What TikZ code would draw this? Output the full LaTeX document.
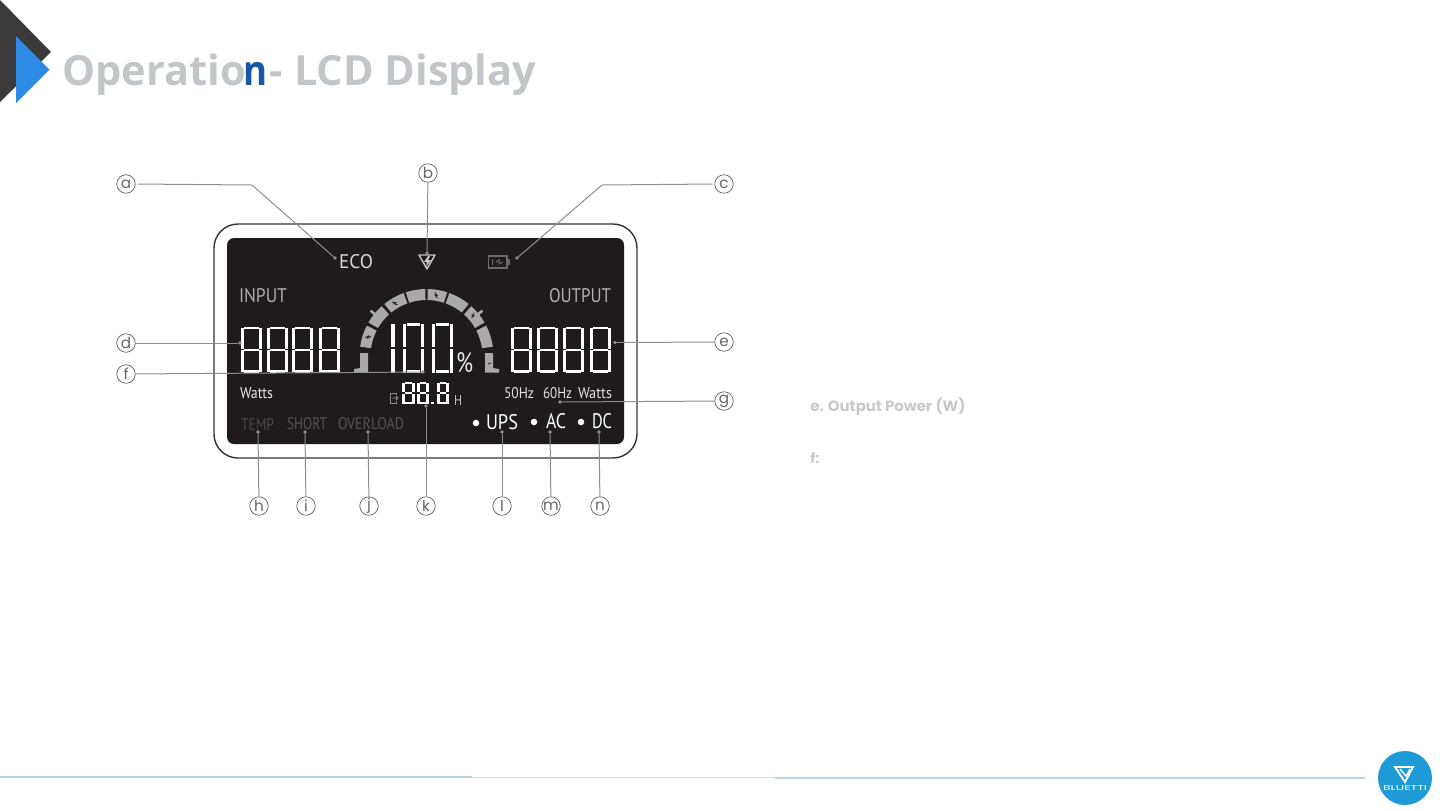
\documentclass[tikz,border=0pt]{standalone}
\usepackage{graphicx}
\usepackage{fontspec}
\setmainfont{PT Sans}
\newfontfamily\titlefont{Open Sans}
\newfontfamily\popfont{Poppins}
\newlength{\pxu}\setlength{\pxu}{0.5pt}
\definecolor{panelc}{HTML}{1F1B1D}
\definecolor{gaugec}{HTML}{A9A9A9}
\definecolor{leadc}{HTML}{8F8F8F}
\definecolor{titlec}{HTML}{C3C6C9}
\definecolor{titleblue}{HTML}{1757A5}
\definecolor{textgrey}{HTML}{C9C9C9}
\definecolor{darkarrow}{HTML}{3A3A3A}
\definecolor{bluearrow}{HTML}{2D8AE5}
\definecolor{logoblue}{HTML}{1E9AD6}
\tikzset{
  callout/.style={draw=black!62,line width=0.35pt,circle,minimum size=18.5\pxu,inner sep=0pt,text=black!60,font=\popfont\fontsize{7.6}{8}\selectfont},
  lcd/.style={anchor=south west,inner sep=0pt,outer sep=0pt},
  leader/.style={draw=leadc,line width=0.5pt},
  tip/.style={circle,fill=leadc,minimum size=3.6\pxu,inner sep=0pt,outer sep=0pt},
  seg/.style={draw=white,line width=#1\pxu,line cap=butt},
  gseg/.style={fill=gaugec},
  gmark/.style={draw=panelc,line width=0.4pt},
  ldot/.style={circle,fill=white,minimum size=6.5\pxu,inner sep=0pt}
}
% exact-size LCD label: x, bottom y, width, height, colour, text, name
\newcommand{\lcdtext}[7]{\node[lcd,text=#5] (#7) at (#1,#2) {\resizebox{#3\pxu}{#4\pxu}{#6}};}
% seven segment zero: x,y,w,h,thickness
\newcommand{\zeroseg}[5]{%
  \pgfmathsetmacro{\hth}{#5*0.8}%
  \pgfmathsetmacro{\hx}{#5/2+0.7}\pgfmathsetmacro{\xa}{#1+#5/2}\pgfmathsetmacro{\xb}{#1+#3-#5/2}%
  \pgfmathsetmacro{\ymid}{#2+#4/2}\pgfmathsetmacro{\ya}{#2+\hth/2}\pgfmathsetmacro{\yb}{#2+#4-\hth/2}%
  \pgfmathsetmacro{\yc}{#2}\pgfmathsetmacro{\yd}{#2+#4}%
  \draw[seg=\hth] ({\xa+\hx},\ya) -- ({\xb-\hx},\ya);
  \draw[seg=\hth] ({\xa+\hx},\yb) -- ({\xb-\hx},\yb);
  \draw[seg=#5] (\xa,{\yc+0.5}) -- (\xa,{\ymid-0.6});
  \draw[seg=#5] (\xb,{\yc+0.5}) -- (\xb,{\ymid-0.6});
  \draw[seg=#5] (\xa,{\ymid+0.6}) -- (\xa,{\yd-0.5});
  \draw[seg=#5] (\xb,{\ymid+0.6}) -- (\xb,{\yd-0.5});
}
% seven segment eight: zero plus the middle bar
\newcommand{\sevenseg}[5]{%
  \zeroseg{#1}{#2}{#3}{#4}{#5}%
  \draw[seg=\hth] ({\xa+\hx},\ymid) -- ({\xb-\hx},\ymid);
}
\newcommand{\gaugeseg}[2]{\fill[gseg] (#1:67) arc[start angle=#1,end angle=#2,radius=67] -- (#2:56) arc[start angle=#2,end angle=#1,radius=56] -- cycle;}
\newcommand{\gaugemark}[1]{\draw[gmark] ({#1-1.5}:59) -- ({#1+1}:61.5) -- ({#1-1}:61.5) -- ({#1+1.5}:64);}
\begin{document}
\begin{tikzpicture}[x=0.5pt,y=-0.5pt]
\useasboundingbox (0,0) rectangle (1440,810);
\fill[white] (0,0) rectangle (1440,810);
% corner arrows
\fill[darkarrow] (0,0) -- (51,52) -- (0,102) -- cycle;
\fill[bluearrow] (16,36) -- (49.5,69.5) -- (16,103) -- cycle;
% title
\node[anchor=base west,inner sep=0pt,text=titlec] (title) at (62,85) {\resizebox{474\pxu}{!}{\titlefont\bfseries\fontsize{21}{24}\selectfont Operatio\kern-1pt{\color{titleblue}\scalebox{0.88}[1]{n}}\kern1pt- LCD Display}};
% description text
\node[anchor=base west,inner sep=0pt,text=textgrey] (desc-e) at (810,411) {\resizebox{155\pxu}{!}{\popfont\bfseries\fontsize{7}{8}\selectfont e. Output Power (W)}};
\node[anchor=base west,inner sep=0pt,text=textgrey] (desc-f) at (810,463) {\popfont\bfseries\fontsize{7}{8}\selectfont f:};
% footer
\draw[draw={rgb,255:red,182;green,211;blue,218},line width=0.6pt] (0,777) -- (472,777);
\draw[draw={rgb,255:red,205;green,225;blue,232},line width=0.7pt] (472,777.5) -- (775,777.5);
\draw[draw={rgb,255:red,190;green,212;blue,224},line width=0.6pt] (775,778) -- (1365,778);
% logo
\node[circle,fill=logoblue,minimum size=54\pxu,inner sep=0pt] (logo) at (1405,778) {};
\draw[white,line width=0.9pt,line join=miter] (1395,767) -- (1413,767) -- (1405,782) -- cycle;
\draw[white,line width=0.7pt] (1400,769) -- (1406,776) -- (1410,769);
\node[text=white,inner sep=0pt] (logotext) at (1405,788) {\resizebox{44\pxu}{5\pxu}{\popfont BLUETTI}};
% LCD body
\draw[draw=black!80,line width=0.7pt,fill=white,rounded corners=12pt] (214,224) rectangle (637,458);
\fill[panelc,rounded corners=3.5pt] (227,238) rectangle (624,444);
% gauge
\begin{scope}[shift={(426.5,356)},yscale=-1]
\gaugeseg{172}{153}
\gaugeseg{150}{132}
\gaugeseg{129}{110}
\gaugeseg{108}{91}
\gaugeseg{89}{72}
\gaugeseg{70}{51}
\gaugeseg{48}{30}
\gaugeseg{27}{8}
\draw[gaugec,line width=1.3pt] (141:65) -- (141:72);
\draw[gaugec,line width=1.3pt] (39:65) -- (39:72);
\gaugemark{162}\gaugemark{121}\gaugemark{81}\gaugemark{41}
\end{scope}
\fill[gaugec] (360,353) -- (368,353) -- (368,372.5) -- (354,372.5) -- (354,369) -- (360,368) -- cycle;
\fill[gaugec] (485,353) -- (493,353) -- (493,368) -- (499,369) -- (499,372.5) -- (485,372.5) -- cycle;
\draw[gmark] (488,364) -- (491,363);
% big digits
\foreach \dx in {241,267,292,319}{\sevenseg{\dx}{327}{21}{45.5}{2.6}}
\foreach \dx in {511,537,563,590}{\sevenseg{\dx}{327}{21}{45.5}{2.6}}
% 100
\draw[seg=3.6] (393,324) -- (393,347.4);
\draw[seg=3.6] (393,348.6) -- (393,372.5);
\zeroseg{403}{323}{21}{50}{3.4}
\zeroseg{432}{323}{21}{50}{3.4}
% 88.8
\sevenseg{402}{382}{13}{22}{2.6}
\sevenseg{417}{382}{12}{22}{2.6}
\fill[white] (431,401.5) rectangle (434,404);
\sevenseg{437}{382}{12}{22}{2.6}
% labels
\lcdtext{339}{269}{34}{14}{white!85!black}{ECO}{eco}
\lcdtext{239}{303}{48}{14}{white!68!black}{INPUT}{input}
\lcdtext{549}{303}{62}{14}{white!70!black}{OUTPUT}{output}
\lcdtext{456}{373}{17}{20}{white!90!black}{\%}{pct}
\lcdtext{240}{399}{33}{11}{white!92!black}{Watts}{wattsL}
\lcdtext{504}{399}{30}{11}{white!88!black}{50Hz}{hzfifty}
\lcdtext{543}{399}{29}{11}{white!88!black}{60Hz}{hzsixty}
\lcdtext{578}{399}{34}{11}{white!88!black}{Watts}{wattsR}
\lcdtext{454}{405}{8}{10}{white!75!black}{H}{hlabel}
\lcdtext{241}{430}{33}{12}{white!27!black}{TEMP}{temp}
\lcdtext{287}{430}{40}{12}{white!32!black}{SHORT}{short}
\lcdtext{338}{430}{66}{12}{white!32!black}{OVERLOAD}{overload}
\lcdtext{486}{430}{32}{15}{white}{UPS}{ups}
\lcdtext{546}{429}{20}{15}{white}{AC}{ac}
\lcdtext{592}{429}{20}{15}{white}{DC}{dc}
\node[ldot] (upsdot) at (476,423) {};
\node[ldot] (acdot) at (534,422) {};
\node[ldot] (dcdot) at (581,422) {};
% bolt icon
\draw[white!78!black,line width=0.7pt,line join=round] (419,255) -- (435,255) -- (427,269) -- cycle;
\fill[white!78!black] (428,256) -- (424,262) -- (427,262) -- (426,267) -- (431,260) -- (428,260) -- (430,256) -- cycle;
% battery icon
\draw[white!42!black,line width=0.6pt] (488.5,256) rectangle (507,268);
\fill[white!42!black] (508,259) rectangle (510,265);
\draw[white!42!black,line width=0.5pt] (492,259) -- (492,265);
\draw[white!42!black,line width=0.5pt] (496,262) -- (499,260) -- (499,264) -- (503,262);
% door icon
\draw[white!55!black,line width=0.45pt] (396,395) -- (396,393) -- (390,393) -- (390,403) -- (396,403) -- (396,401);
\draw[white!55!black,line width=0.45pt] (392,398) -- (398,398) (396,396) -- (398,398) -- (396,400);
% callouts
\foreach \n/\x/\y in {a/126/184,b/428/173,c/724/184,d/126/343,e/724/342,f/126/374,g/724/401,h/259/506,i/306/506,j/369/506,k/426/506,l/502/506,m/551/506,n/600/506}{
  \node[callout] (c\n) at (\x,\y) {\n};
}
% leader tips
\foreach \n/\x/\y in {a/335/258,b/427/253,c/517/258,d/240/343,e/615/342.5,f/423/372,g/560/402,h/258/432,i/305/432,j/368/432,k/426/406,l/502/432,m/550/432,n/599/432}{
  \node[tip] (t\n) at (\x,\y) {};
}
\coordinate (abend) at (252,185);
\coordinate (cbend) at (602,185);
\draw[leader,shorten <=1pt] (ca.east) -- (abend) -- (ta);
\draw[leader,shorten <=1pt] (cc.west) -- (cbend) -- (tc);
\draw[leader] (cb) -- (tb);
\draw[leader] (cd) -- (td);
\draw[leader] (ce) -- (te);
\draw[leader] (cf) -- (tf);
\draw[leader] (cg) -- (tg);
\draw[leader] (ch) -- (th);
\draw[leader] (ci) -- (ti);
\draw[leader] (cj) -- (tj);
\draw[leader] (ck) -- (tk);
\draw[leader] (cl) -- (tl);
\draw[leader] (cm) -- (tm);
\draw[leader] (cn) -- (tn);
\end{tikzpicture}
\end{document}
